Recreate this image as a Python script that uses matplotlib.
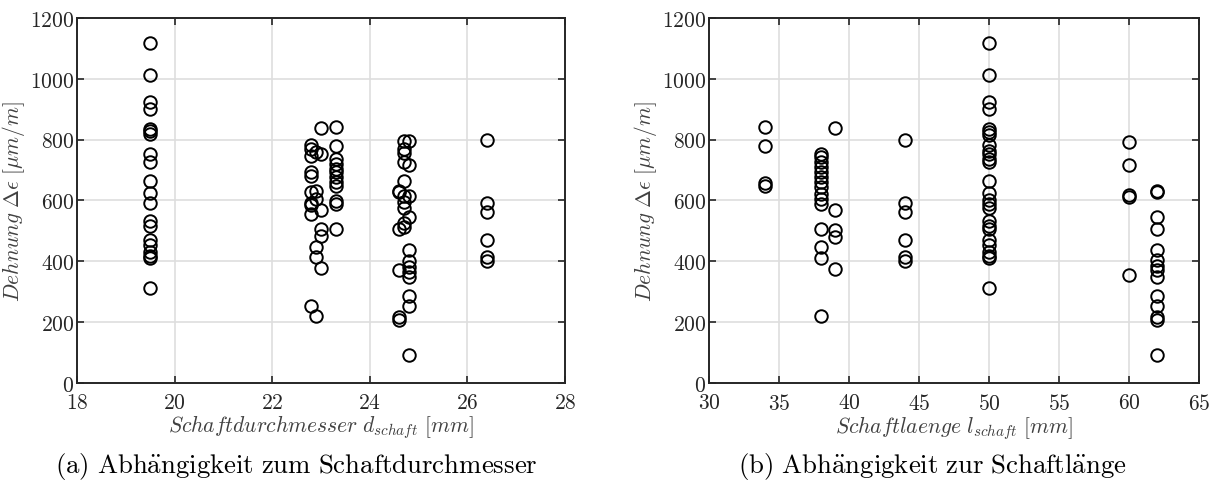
# Dehnung vs. Schaftdurchmesser / Schaftlaenge (two scatter panels)
import matplotlib
matplotlib.use('Agg')
import matplotlib.pyplot as plt
from matplotlib.ticker import FuncFormatter

plt.rcParams['mathtext.fontset'] = 'cm'
plt.rcParams['font.family'] = ['cmr10', 'DejaVu Serif']

# --- data ---
d_195 = [1119, 1011, 925, 901, 835, 827, 819, 753, 728, 665, 624, 590,
         534, 517, 470, 452, 430, 419, 410, 312]
d_228 = [783, 770, 747, 693, 680, 629, 590, 585, 556, 252]
d_229 = [758, 632, 605, 446, 413, 221]
d_230 = [838, 753, 570, 506, 482, 377]
d_233 = [842, 780, 736, 720, 704, 693, 676, 660, 649, 599, 588, 506]
d_246 = [632, 627, 506, 373, 216, 208]
d_247 = [797, 770, 756, 725, 665, 616, 594, 574, 526, 512]
d_248 = [797, 715, 616, 545, 437, 402, 380, 364, 347, 285, 252, 92]
d_264 = [799, 592, 561, 470, 413, 400]

diam_groups = [19.5, 22.8, 22.9, 23.0, 23.3, 24.6, 24.7, 24.8, 26.4]
diam_vals = [d_195, d_228, d_229, d_230, d_233, d_246, d_247, d_248, d_264]

l_34 = [842, 780, 656, 649]
l_38 = [753, 742, 725, 709, 693, 676, 660, 643, 621, 605, 588, 506, 446, 410, 219]
l_39 = [838, 567, 503, 479, 375]
l_44 = [799, 592, 561, 470, 413, 400]
l_50 = [1119, 1011, 925, 901, 835, 825, 814, 781, 764, 753, 736, 725, 665,
        624, 600, 589, 574, 534, 517, 506, 470, 452, 430, 419, 410, 312]
l_60 = [793, 717, 618, 611, 355]
l_62 = [632, 627, 545, 506, 438, 405, 386, 373, 347, 287, 254, 216, 208, 93]

len_groups = [34, 38, 39, 44, 50, 60, 62]
len_vals = [l_34, l_38, l_39, l_44, l_50, l_60, l_62]

ink = '#262626'

fig = plt.figure(figsize=(12.13, 4.81), dpi=100)
ax1 = fig.add_axes([0.0635, 0.2017, 0.4023, 0.759])
ax2 = fig.add_axes([0.5845, 0.2017, 0.4040, 0.759])


def style(ax, xlim, xticks):
    ax.set_xlim(*xlim)
    ax.set_ylim(0, 1200)
    ax.set_xticks(xticks)
    ax.set_yticks(range(0, 1201, 200))
    fmt = FuncFormatter(lambda v, p: r'$\mathrm{%d}$' % v)
    ax.xaxis.set_major_formatter(fmt)
    ax.yaxis.set_major_formatter(fmt)
    ax.tick_params(direction='in', top=True, right=True, length=5,
                   width=1.2, labelsize=15.5, colors=ink)
    ax.tick_params(axis='x', pad=7)
    ax.tick_params(axis='y', pad=2)
    ax.grid(True, color='#dedede', linewidth=1.2)
    ax.set_axisbelow(True)
    for s in ax.spines.values():
        s.set_linewidth(1.4)
        s.set_color(ink)
    ax.set_ylabel(r'$Dehnung\ \Delta\epsilon\ [\mu m/m]$', fontsize=15.5,
                  color='#404040', labelpad=2)


for x, vals in zip(diam_groups, diam_vals):
    ax1.plot([x] * len(vals), vals, 'o', mfc='none', mec='black',
             ms=9, mew=1.4, linestyle='none')
for x, vals in zip(len_groups, len_vals):
    ax2.plot([x] * len(vals), vals, 'o', mfc='none', mec='black',
             ms=9, mew=1.4, linestyle='none')

style(ax1, (18, 28), range(18, 29, 2))
style(ax2, (30, 65), range(30, 66, 5))

ax1.set_xlabel(r'$Schaftdurchmesser\ d_{schaft}\ [mm]$', fontsize=15.5,
               color='#404040', labelpad=0)
ax2.set_xlabel(r'$Schaftlaenge\ l_{schaft}\ [mm]$', fontsize=15.5,
               color='#404040', labelpad=0)

fig.text(296 / 1213, 1 - 467 / 481,
         r'$\mathrm{(a)\ Abh\ddot{a}ngigkeit\ zum\ Schaftdurchmesser}$',
         fontsize=19.3, ha='center', va='center', color='black')
fig.text(932 / 1213, 1 - 467 / 481,
         r'$\mathrm{(b)\ Abh\ddot{a}ngigkeit\ zur\ Schaftl\ddot{a}nge}$',
         fontsize=19.3, ha='center', va='center', color='black')

fig.savefig('out.png', dpi=100)
